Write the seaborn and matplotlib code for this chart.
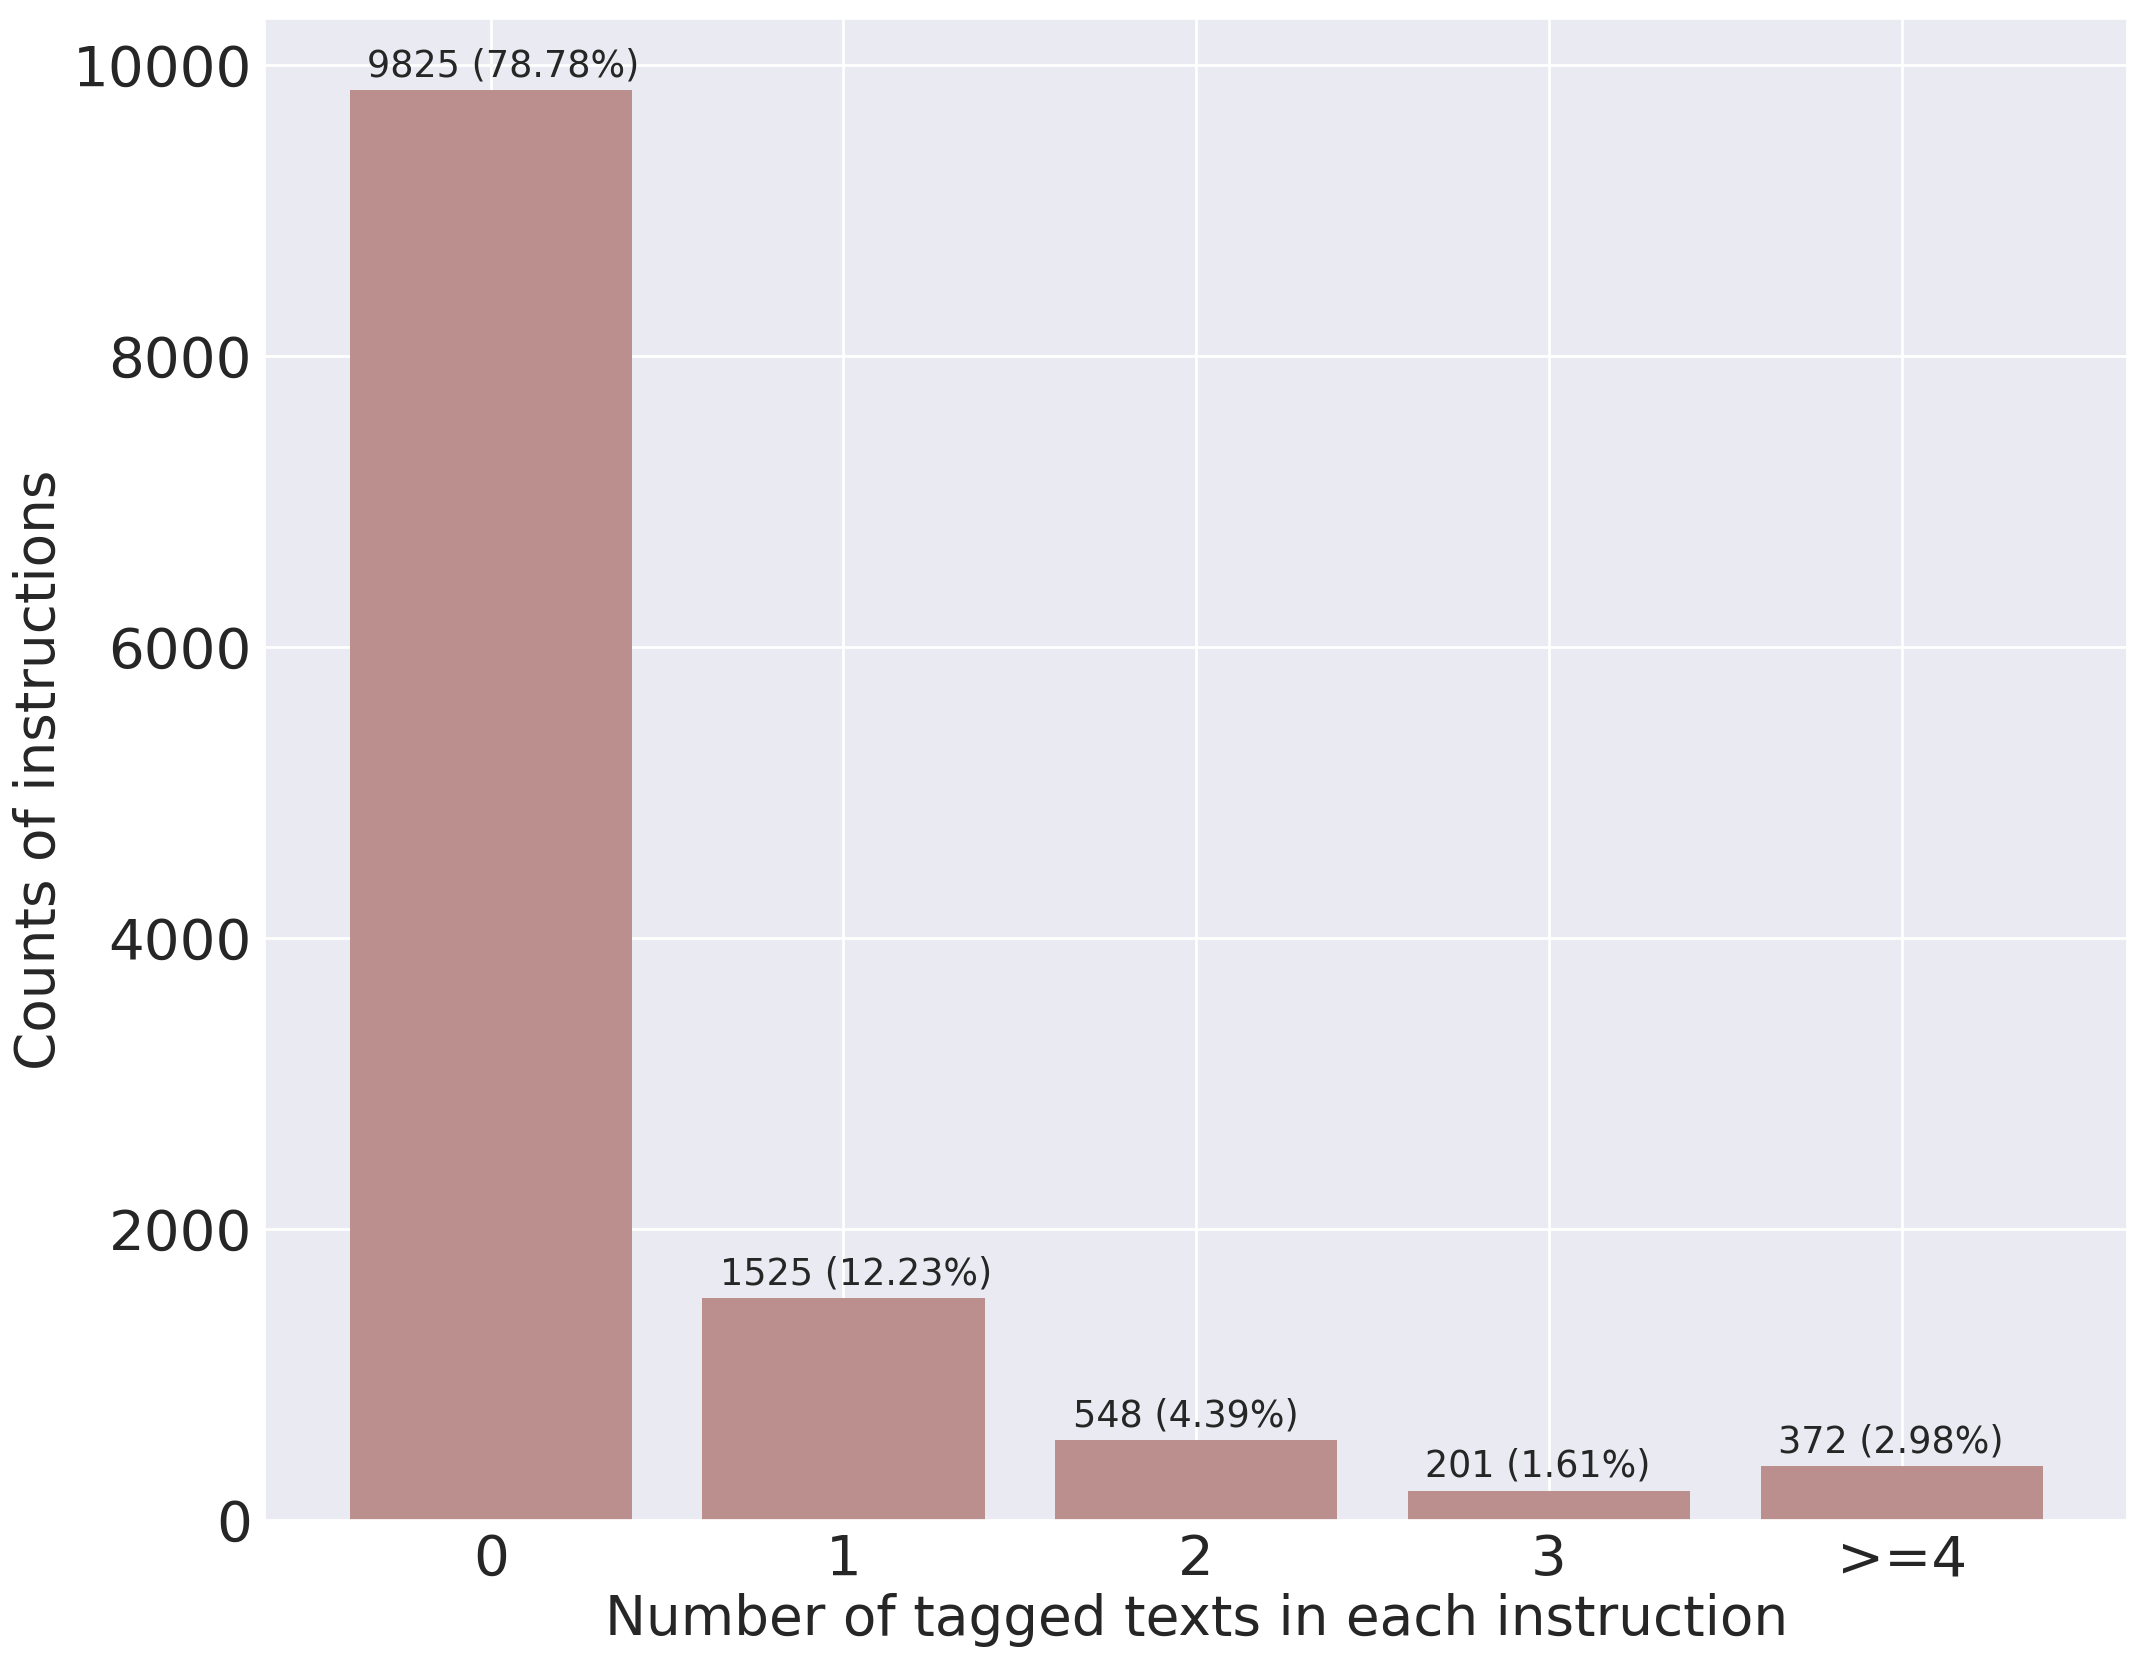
import seaborn as sns
import matplotlib
matplotlib.use("Agg")
import matplotlib.pyplot as plt

# counts of instructions per number of tagged texts
categories = ['0', '1', '2', '3', '>=4']
counts = [9825, 1525, 548, 201, 372]
percents = [78.78, 12.23, 4.39, 1.61, 2.98]

sns.set_theme(style='darkgrid')
plt.rcParams['font.family'] = ['DejaVu Sans']
plt.rcParams['grid.linewidth'] = 2

fig = plt.figure(figsize=(21.51, 16.66), dpi=100)
ax = fig.add_axes([0.1232, 0.0876, 0.8658, 0.901])

sns.barplot(x=categories, y=counts, color='rosybrown', saturation=1, width=0.8,
            linewidth=0, ax=ax)

# annotate each bar with count and percentage
for patch, c, p in zip(ax.patches, counts, percents):
    ax.text(patch.get_x() + 0.05, c + 40, f'{c} ({p:.2f}%)',
            ha='left', va='bottom', fontsize=26.3, color='#262626')

ax.xaxis.grid(True)
ax.set_axisbelow(True)
ax.set_xlim(-0.64, len(categories) - 1 + 0.64)
ax.set_ylim(0, max(counts) * 1.05)
ax.set_yticks([0, 2000, 4000, 6000, 8000, 10000])
ax.tick_params(axis='both', labelsize=40.5)
ax.set_xlabel('Number of tagged texts in each instruction', fontsize=39.5)
ax.set_ylabel('Counts of instructions', fontsize=39.5)

fig.savefig('out.png', dpi=100)
